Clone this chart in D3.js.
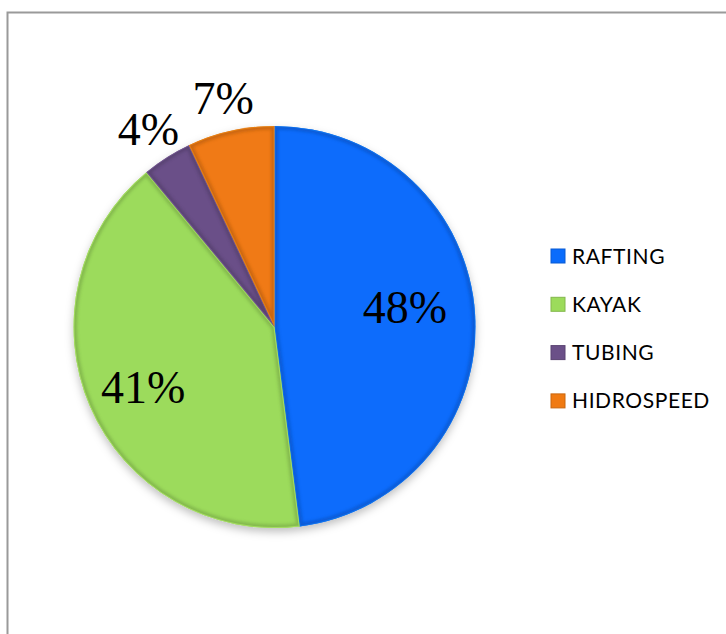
<!DOCTYPE html>
<html>
<head>
<meta charset="utf-8">
<script src="https://cdn.jsdelivr.net/npm/d3@7"></script>
<style>
  body { margin: 0; background: #fff; }
  svg { display: block; }
</style>
</head>
<body>
<svg id="canvas" width="726" height="634"></svg>
<script>
// data
const categories = ['RAFTING', 'KAYAK', 'TUBING', 'HIDROSPEED'];
const shares = [48, 41, 4, 7];
const labels = ['48%', '41%', '4%', '7%'];
const colors = ['#0a6cfc', '#9cdb5b', '#6b5088', '#f07a12'];

const svg = d3.select('#canvas');

// frame (only top/left visible, like the source)
svg.append('rect')
  .attr('x', 7.5).attr('y', 12.5)
  .attr('width', 740).attr('height', 640)
  .attr('fill', 'none')
  .attr('stroke', '#9a9a9a')
  .attr('stroke-width', 2);

const cx = 274.5, cy = 327, r = 201;

const defs = svg.append('defs');
const shadow = defs.append('filter').attr('id', 'shadow')
  .attr('x', '-20%').attr('y', '-20%').attr('width', '140%').attr('height', '140%');
shadow.append('feDropShadow')
  .attr('dx', 0).attr('dy', 4).attr('stdDeviation', 4)
  .attr('flood-color', '#000').attr('flood-opacity', 0.25);

const blur = defs.append('filter').attr('id', 'edgeblur');
blur.append('feGaussianBlur').attr('stdDeviation', 1.6);

const pie = d3.pie().sort(null).value(d => d);
const arcs = pie(shares);
const arc = d3.arc().innerRadius(0).outerRadius(r);

const g = svg.append('g').attr('transform', `translate(${cx},${cy})`);

// clip paths per slice for bevel effect
arcs.forEach((a, i) => {
  defs.append('clipPath').attr('id', 'clip' + i)
    .append('path').attr('d', arc(a));
});

const pieG = g.append('g').attr('filter', 'url(#shadow)');
pieG.selectAll('path.slice')
  .data(arcs)
  .join('path')
    .attr('class', 'slice')
    .attr('d', arc)
    .attr('fill', (d, i) => colors[i]);

// bevel: darker soft edge inside each slice, lighter highlight
const bevel = g.append('g');
arcs.forEach((a, i) => {
  const c = d3.color(colors[i]);
  const b = bevel.append('g').attr('clip-path', `url(#clip${i})`);
  b.append('path')
    .attr('d', arc(a))
    .attr('fill', 'none')
    .attr('stroke', c.darker(0.9))
    .attr('stroke-width', 7)
    .attr('opacity', 0.55)
    .attr('filter', 'url(#edgeblur)');
  b.append('path')
    .attr('d', arc(a))
    .attr('fill', 'none')
    .attr('stroke', c.brighter(0.6))
    .attr('stroke-width', 2)
    .attr('opacity', 0.5);
});

// percentage labels: big slices inside, small ones outside
const inArc = d3.arc().innerRadius(r * 0.68).outerRadius(r * 0.68);
const outArc = d3.arc().innerRadius(r * 1.17).outerRadius(r * 1.17);
g.selectAll('text.pct')
  .data(arcs)
  .join('text')
    .attr('class', 'pct')
    .attr('transform', (d, i) => {
      const p = shares[i] > 10 ? inArc.centroid(d) : outArc.centroid(d);
      // nudge the upper-right label up a bit, like the source layout
      const dy = p[1] < 0 && shares[i] > 10 ? -12 : (shares[i] > 10 ? 6 : 0);
      return `translate(${p[0] - (shares[i] > 10 ? 6 : 0)},${p[1] + dy})`;
    })
    .attr('text-anchor', 'middle')
    .attr('dy', '0.35em')
    .style('font-family', '"Liberation Serif", "Times New Roman", serif')
    .style('font-size', '46px')
    .attr('fill', '#000')
    .text((d, i) => labels[i]);

// legend
const legend = svg.append('g').attr('transform', 'translate(551,256)');
const rows = legend.selectAll('g')
  .data(categories)
  .join('g')
    .attr('transform', (d, i) => `translate(0,${i * 48.3})`);
rows.append('rect')
  .attr('x', 0).attr('y', -7)
  .attr('width', 14).attr('height', 14)
  .attr('fill', (d, i) => colors[i])
  .attr('stroke', (d, i) => d3.color(colors[i]).darker(0.5))
  .attr('stroke-width', 1);
rows.append('text')
  .attr('x', 21)
  .attr('dy', '0.36em')
  .style('font-family', 'Lato, "Open Sans", sans-serif')
  .style('font-size', '21px')
  .style('letter-spacing', '0.6px')
  .attr('fill', '#000')
  .text(d => d);
</script>
</body>
</html>
